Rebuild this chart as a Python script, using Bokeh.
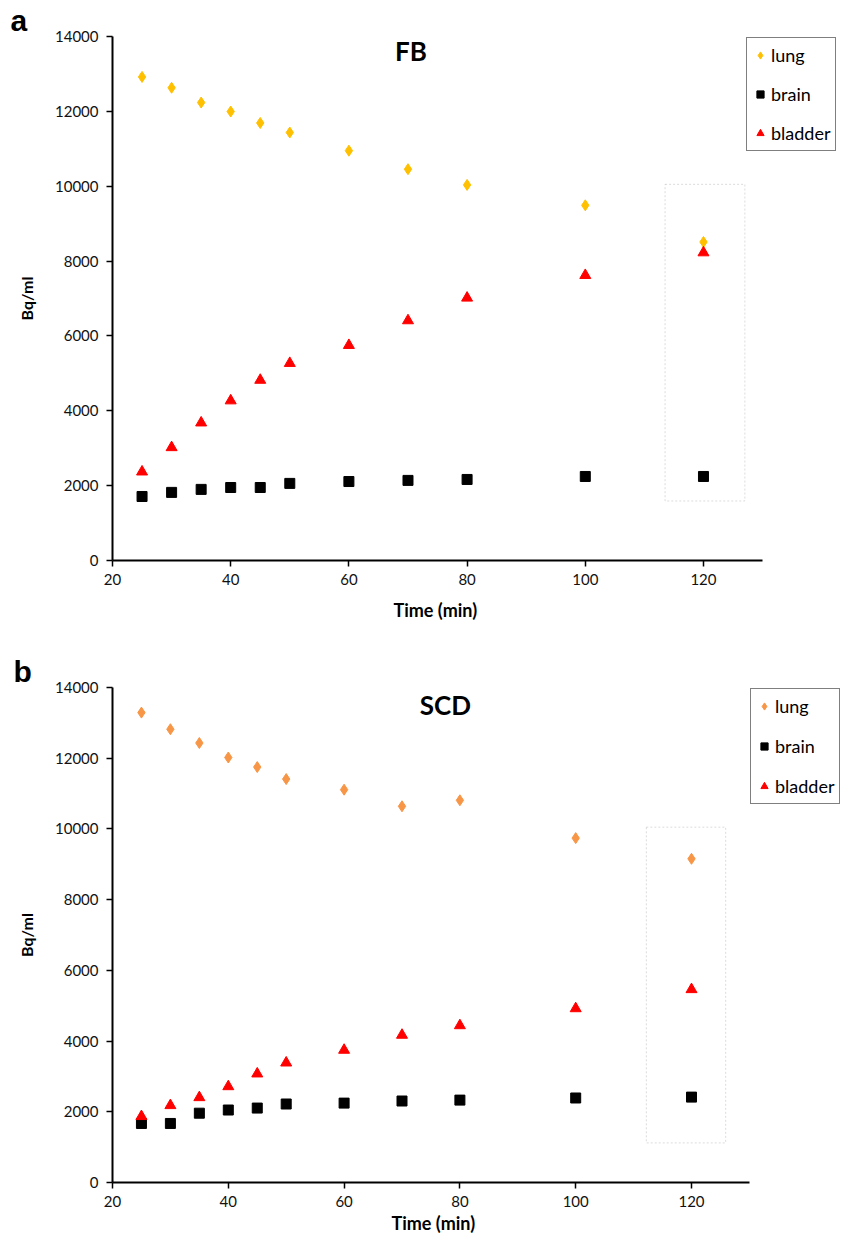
from bokeh.plotting import figure
from bokeh.models import (ColumnDataSource, Legend, LegendItem, Label, BoxAnnotation,
                          FixedTicker, Range1d, Title)
from bokeh.layouts import column
from bokeh.embed import file_html
from bokeh.resources import INLINE

# ---- data ----
time_min = [25, 30, 35, 40, 45, 50, 60, 70, 80, 100, 120]

fb_lung = [12920, 12630, 12235, 11995, 11690, 11435, 10950, 10455, 10035, 9490, 8510]
fb_brain = [1710, 1820, 1900, 1950, 1950, 2060, 2110, 2140, 2165, 2245, 2245]
fb_bladder = [2370, 3020, 3680, 4270, 4820, 5270, 5750, 6410, 7015, 7620, 8225]

scd_lung = [13290, 12820, 12430, 12020, 11750, 11410, 11110, 10640, 10810, 9740, 9155]
scd_brain = [1670, 1670, 1960, 2050, 2105, 2220, 2245, 2305, 2330, 2390, 2415]
scd_bladder = [1870, 2180, 2405, 2715, 3075, 3385, 3745, 4170, 4440, 4920, 5460]

x_ticks = [20, 40, 60, 80, 100, 120]
y_ticks = [0, 2000, 4000, 6000, 8000, 10000, 12000, 14000]
series_names = ["lung", "brain", "bladder"]

TICK_FONT = "Lato"


def make_panel(letter, title, lung, brain, bladder, lung_color, x_end, frame_w, frame_h,
               mb_right, mb_top, mb_bottom, box, legend_loc, legend_spacing, title_pos,
               xlabel_offset, xlabel_standoff, xlabel_valign, letter_offset):
    p = figure(frame_width=frame_w, frame_height=frame_h,
               min_border_left=112, min_border_right=mb_right,
               min_border_top=mb_top, min_border_bottom=mb_bottom,
               x_range=Range1d(20, x_end), y_range=Range1d(0, 14000),
               output_backend="svg", toolbar_location=None)
    p.outline_line_color = None
    p.xgrid.visible = False
    p.ygrid.visible = False
    p.background_fill_color = "white"
    p.border_fill_color = "white"

    for ax in (p.xaxis[0], p.yaxis[0]):
        ax.axis_line_width = 2
        ax.axis_line_color = "black"
        ax.major_tick_in = 0
        ax.major_tick_out = 6
        ax.major_tick_line_width = 1.5
        ax.major_tick_line_color = "black"
        ax.minor_tick_line_color = None
        ax.major_label_text_font = TICK_FONT
        ax.major_label_text_font_size = "15px"
        ax.major_label_text_color = "#111111"
        ax.axis_label_text_font = TICK_FONT
        ax.axis_label_text_font_style = "bold"
        ax.axis_label_text_color = "black"

    p.xaxis.ticker = FixedTicker(ticks=x_ticks)
    p.xaxis.bounds = (20, 130)
    p.yaxis.ticker = FixedTicker(ticks=y_ticks)
    p.xaxis.major_label_standoff = 7
    p.yaxis.axis_label = "Bq/ml"
    p.yaxis.axis_label_text_font_size = "16px"
    p.yaxis.major_label_standoff = 8
    p.yaxis.axis_label_standoff = 16

    src = ColumnDataSource(dict(t=time_min, lung=lung, brain=brain, bladder=bladder))
    r_lung = p.scatter("t", "lung", source=src, marker="diamond", size=11,
                       fill_color=lung_color, line_color=lung_color)
    r_brain = p.scatter("t", "brain", source=src, marker="square", size=10,
                        fill_color="black", line_color="black")
    r_blad = p.scatter("t", "bladder", source=src, marker="triangle", size=11,
                       fill_color="#FF0000", line_color="#FF0000")

    p.add_layout(BoxAnnotation(left=box[0], right=box[1], bottom=box[2], top=box[3],
                               fill_alpha=0, line_color="#8c8c8c", line_width=1,
                               line_dash="2 2"))

    legend = Legend(items=[LegendItem(label=series_names[0], renderers=[r_lung]),
                           LegendItem(label=series_names[1], renderers=[r_brain]),
                           LegendItem(label=series_names[2], renderers=[r_blad])],
                    location=legend_loc, orientation="vertical",
                    label_text_font=TICK_FONT, label_text_font_size="18px",
                    label_text_color="black", label_height=26,
                    glyph_width=18, glyph_height=18, label_standoff=2,
                    spacing=legend_spacing, padding=4, margin=0,
                    border_line_color="black", border_line_width=1.5,
                    background_fill_color="white", background_fill_alpha=1)
    p.add_layout(legend, "center")

    p.add_layout(Label(x=title_pos[0], y=title_pos[1], text=title,
                       text_font=TICK_FONT, text_font_style="bold",
                       text_font_size="26px", text_align="center",
                       text_baseline="middle", text_color="black"))

    p.add_layout(Title(text="Time (min)", align="left", offset=xlabel_offset,
                       text_font=TICK_FONT, text_font_style="bold",
                       text_font_size="18px", text_color="black",
                       standoff=xlabel_standoff, vertical_align=xlabel_valign),
                 "below")
    p.add_layout(Title(text=letter, align="left", offset=letter_offset,
                       text_font="Liberation Sans", text_font_style="bold",
                       text_font_size="30px", text_color="black", standoff=0),
                 "above")
    return p


p1 = make_panel("a", "FB", fb_lung, fb_brain, fb_bladder, "#FFC000",
                x_end=144.2, frame_w=734, frame_h=524, mb_right=0, mb_top=36, mb_bottom=60,
                box=(113.5, 127.0, 1590, 10050), legend_loc=(634, 409), legend_spacing=13,
                title_pos=(70.5, 13620), xlabel_offset=281, xlabel_standoff=20,
                xlabel_valign="middle", letter_offset=-102)

p2 = make_panel("b", "SCD", scd_lung, scd_brain, scd_bladder, "#F79646",
                x_end=146.77, frame_w=734, frame_h=495, mb_right=0, mb_top=56, mb_bottom=54,
                box=(112.2, 125.9, 1120, 10050), legend_loc=(638, 378), legend_spacing=14,
                title_pos=(77.5, 13510), xlabel_offset=279, xlabel_standoff=0,
                xlabel_valign="bottom", letter_offset=-99)

layout = column(p1, p2, spacing=0)
open("out.html", "w").write(file_html(layout, INLINE))
